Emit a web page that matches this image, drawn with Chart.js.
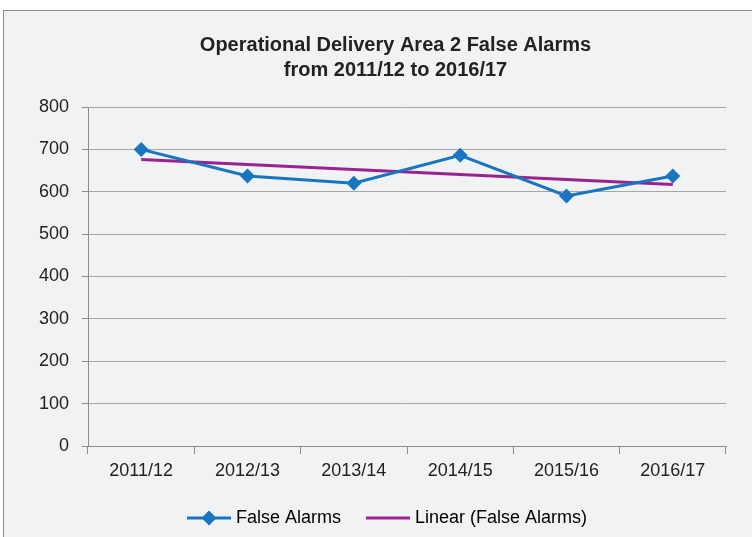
<!DOCTYPE html>
<html>
<head>
<meta charset="utf-8">
<script src="https://cdn.jsdelivr.net/npm/chart.js@4"></script>
<style>
    body { margin: 0; background: #ffffff; }
    #frame {
        position: absolute; left: 3px; top: 10px;
        width: 780px; height: 560px;
        border: 1px solid #8c8c8c;
        background: #f1f2f4;
    }
    #wrap { position: absolute; left: 0; top: 0; width: 752px; height: 537px; }
</style>
</head>
<body>
<div id="frame"></div>
<div id="wrap"><canvas id="chart-01"></canvas></div>
<script>
// Chart data
const years = ["2011/12", "2012/13", "2013/14", "2014/15", "2015/16", "2016/17"];
const falseAlarms = [700, 637, 620, 686, 590, 637];
// trend line end points (middle left empty, gaps spanned)
const linearTrend = [676, null, null, null, null, 617];
const yTicks = [0, 100, 200, 300, 400, 500, 600, 700, 800];

const blue = "#1a75c0";
const purple = "#9a2390";
const fontFamily = "'Liberation Sans', Arial, Helvetica, sans-serif";

// legend swatches: 44px line (with optional diamond), right-aligned in a 52px image
const legendSwatch = (color, diamond) => {
    const c = document.createElement("canvas");
    c.width = 52;
    c.height = 16;
    const g = c.getContext("2d");
    g.strokeStyle = color;
    g.lineWidth = 3;
    g.beginPath();
    g.moveTo(8, 8);
    g.lineTo(52, 8);
    g.stroke();
    if (diamond) {
        g.fillStyle = color;
        g.beginPath();
        g.moveTo(30, 0.5);
        g.lineTo(37.5, 8);
        g.lineTo(30, 15.5);
        g.lineTo(22.5, 8);
        g.closePath();
        g.fill();
    }
    return c;
};

// nudge title / legend to the right, like the original layout
const blockShift = {
    id: "blockShift",
    afterLayout: (chart) => {
        chart.titleBlock.left += 29;
        chart.legend.left += 8;
    },
};

const ctx = document.getElementById("chart-01");

new Chart(ctx, {
    type: "line",
    plugins: [blockShift],
    data: {
        labels: years,
        datasets: [
            {
                label: "False Alarms",
                data: falseAlarms,
                borderColor: blue,
                backgroundColor: blue,
                borderWidth: 3,
                tension: 0,
                pointStyle: "rectRot",
                pointRadius: 7.5,
                pointHoverRadius: 7.5,
                pointBorderWidth: 0,
                order: 1,
            },
            {
                label: "Linear (False Alarms)",
                data: linearTrend,
                borderColor: purple,
                backgroundColor: purple,
                borderWidth: 3,
                spanGaps: true,
                pointRadius: 0,
                pointHoverRadius: 0,
                order: 2,
            },
        ],
    },
    options: {
        responsive: true,
        maintainAspectRatio: false,
        animation: false,
        layout: {
            padding: { left: 36, right: 26, top: 0, bottom: 0 },
        },
        scales: {
            x: {
                type: "category",
                offset: true,
                border: { display: true, color: "#8c8c8c", width: 1 },
                grid: {
                    offset: true,
                    drawOnChartArea: false,
                    drawTicks: true,
                    tickLength: 8,
                    color: "#8c8c8c",
                },
                ticks: {
                    color: "#222222",
                    font: { family: fontFamily, size: 18, lineHeight: 1 },
                    padding: 8,
                },
            },
            y: {
                min: 0,
                max: 800,
                afterFit: (scale) => {
                    scale.width = 52;
                },
                afterBuildTicks: (scale) => {
                    scale.ticks = yTicks.map((v) => ({ value: v }));
                },
                border: { display: true, color: "#8c8c8c", width: 1 },
                grid: {
                    color: "#a6a6a6",
                    drawTicks: true,
                    tickLength: 6,
                    tickColor: "#8c8c8c",
                },
                ticks: {
                    color: "#222222",
                    font: { family: fontFamily, size: 18 },
                    padding: 13,
                },
            },
        },
        plugins: {
            title: {
                display: true,
                text: [
                    "Operational Delivery Area 2 False Alarms",
                    "from 2011/12 to 2016/17",
                ],
                color: "#222222",
                font: { family: fontFamily, size: 20, weight: "bold", lineHeight: 1.25 },
                padding: { top: 33, bottom: 24 },
            },
            legend: {
                position: "bottom",
                labels: {
                    usePointStyle: true,
                    pointStyleWidth: 44,
                    color: "#222222",
                    font: { family: fontFamily, size: 18, lineHeight: 1 },
                    padding: 21,
                    generateLabels: (chart) =>
                        chart.data.datasets.map((ds, i) => ({
                            text: ds.label,
                            pointStyle: legendSwatch(ds.borderColor, i === 0),
                            fillStyle: ds.borderColor,
                            strokeStyle: ds.borderColor,
                            lineWidth: 0,
                            hidden: false,
                            datasetIndex: i,
                        })),
                },
            },
            tooltip: { enabled: false },
        },
    },
});
</script>
</body>
</html>
